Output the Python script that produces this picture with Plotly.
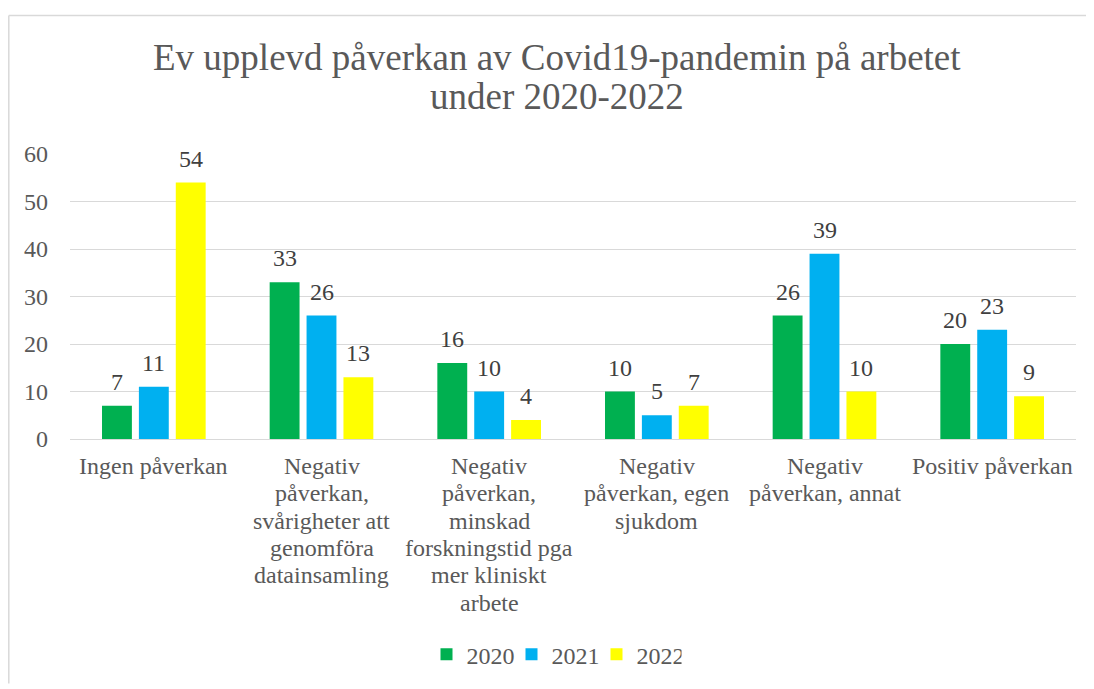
import plotly.graph_objects as go

categories = [
    "Ingen påverkan",
    "Negativ<br>påverkan,<br>svårigheter att<br>genomföra<br>datainsamling",
    "Negativ<br>påverkan,<br>minskad<br>forskningstid pga<br>mer kliniskt<br>arbete",
    "Negativ<br>påverkan, egen<br>sjukdom",
    "Negativ<br>påverkan, annat",
    "Positiv påverkan",
]
years = ["2020", "2021", "2022"]
v2020 = [7, 33, 16, 10, 26, 20]
v2021 = [11, 26, 10, 5, 39, 23]
v2022 = [54, 13, 4, 7, 10, 9]
colors = ["#00B050", "#00B0F0", "#FFFF00"]

# the page body has an 8px margin, so the figure is 8px smaller
W, H = 1086, 681
L, R, T, B = 62, 18, 146, 247
pw, ph = W - L - R, H - T - B
BARGAP, GROUPGAP = 0.34, 0.19

FONT = "Liberation Serif"
GREY = "#595959"
FS = 24


def px_x(p):
    return (p - L) / pw


def px_y(p):
    return (H - B - p) / ph


series = [v2020, v2021, v2022]
fig = go.Figure()
for name, vals, col in zip(years, series, colors):
    fig.add_trace(go.Bar(
        x=categories, y=vals, name=name,
        marker=dict(color=col, line=dict(width=0)),
    ))

annotations = []
# title, two lines with tight line spacing
for i, line in enumerate(["Ev upplevd påverkan av Covid19-pandemin på arbetet",
                          "under 2020-2022"]):
    annotations.append(dict(
        text=line, xref="paper", yref="paper",
        x=px_x(549), y=px_y(48 + 40 * i), xanchor="center", yanchor="middle",
        showarrow=False, font=dict(family=FONT, size=37, color=GREY),
    ))
# category labels, one annotation per line (Excel-like line spacing)
for cat in categories:
    for j, line in enumerate(cat.split("<br>")):
        annotations.append(dict(
            text=line, xref="x", yref="paper",
            x=cat, y=px_y(461 + 27.7 * j), xanchor="center", yanchor="middle",
            showarrow=False, font=dict(family=FONT, size=FS, color=GREY),
        ))
# data labels above each bar
slot = pw / len(categories) * (1 - BARGAP) / len(series)
for k, vals in enumerate(series):
    for cat, v in zip(categories, vals):
        annotations.append(dict(
            text=str(v), xref="x", yref="y", x=cat, y=v,
            xshift=(k - 1) * slot, yshift=9,
            xanchor="center", yanchor="bottom", showarrow=False,
            font=dict(family=FONT, size=FS, color="#404040"),
        ))

fig.update_layout(
    width=W, height=H,
    margin=dict(l=L, r=R, t=T, b=B),
    paper_bgcolor="white", plot_bgcolor="white",
    font=dict(family=FONT, size=FS, color=GREY),
    barmode="group", bargap=BARGAP, bargroupgap=GROUPGAP,
    showlegend=True,
    legend=dict(
        orientation="h", x=px_x(546), xanchor="center",
        y=px_y(652), yanchor="middle",
        font=dict(family=FONT, size=FS, color=GREY),
        itemwidth=30, entrywidth=40, entrywidthmode="pixels",
    ),
    xaxis=dict(
        showgrid=False, showline=False, ticks="", showticklabels=False,
    ),
    yaxis=dict(
        range=[0, 60], dtick=10, showgrid=True, gridcolor="#D9D9D9", gridwidth=1.3,
        zeroline=True, zerolinecolor="#D9D9D9", zerolinewidth=1.3,
        showline=False, ticks="",
        tickfont=dict(family=FONT, size=FS, color=GREY),
        ticklabelstandoff=21,
    ),
    annotations=annotations,
    shapes=[
        dict(type="line", xref="paper", yref="paper",
             x0=px_x(0.8), x1=px_x(W), y0=px_y(6), y1=px_y(6),
             line=dict(color="#D9D9D9", width=1.5)),
        dict(type="line", xref="paper", yref="paper",
             x0=px_x(0.8), x1=px_x(0.8), y0=px_y(6), y1=px_y(H),
             line=dict(color="#D9D9D9", width=1.5)),
    ],
)

fig.write_html("out.html")
